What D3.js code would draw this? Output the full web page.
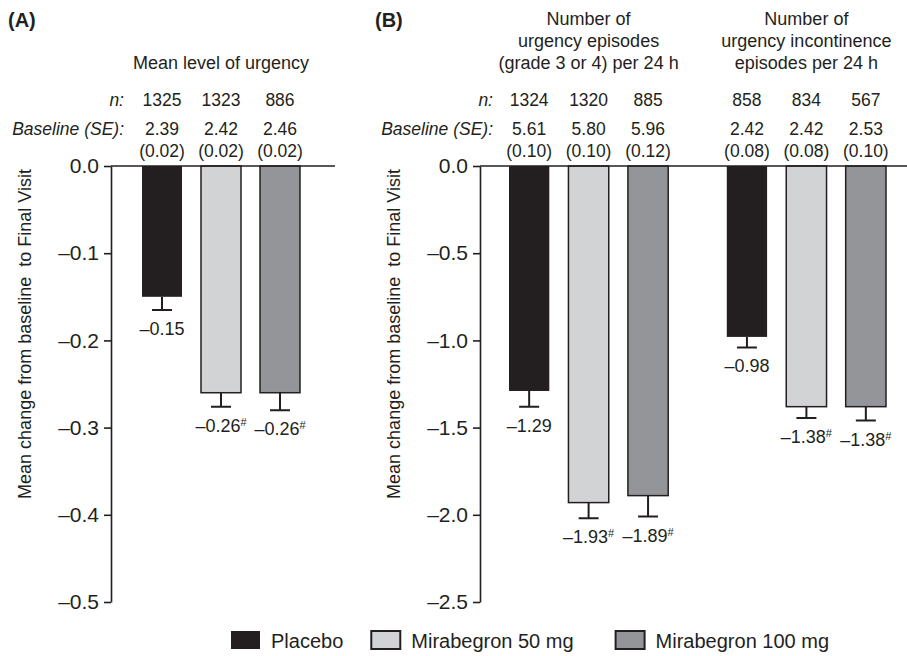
<!DOCTYPE html>
<html>
<head>
<meta charset="utf-8">
<script src="https://cdn.jsdelivr.net/npm/d3@7"></script>
<style>
  body { margin: 0; background: #fff; }
  svg text { font-family: "Liberation Sans", Arial, Helvetica, sans-serif; fill: #231f20; }
</style>
</head>
<body>
<div id="vis"></div>
<script>
// Data
const treatments = ['Placebo', 'Mirabegron 50 mg', 'Mirabegron 100 mg']
const outcomeTitles = [
    ['Mean level of urgency'],
    ['Number of', 'urgency episodes', '(grade 3 or 4) per 24 h'],
    ['Number of', 'urgency incontinence', 'episodes per 24 h']
]
const nValues = [[1325, 1323, 886], [1324, 1320, 885], [858, 834, 567]]
const baselineMean = [['2.39', '2.42', '2.46'], ['5.61', '5.80', '5.96'], ['2.42', '2.42', '2.53']]
const baselineSE = [['0.02', '0.02', '0.02'], ['0.10', '0.10', '0.12'], ['0.08', '0.08', '0.10']]
const meanChange = [[-0.15, -0.26, -0.26], [-1.29, -1.93, -1.89], [-0.98, -1.38, -1.38]]
const changeSE = [[0.015, 0.016, 0.02], [0.09, 0.09, 0.12], [0.06, 0.065, 0.08]]
const significant = [[false, true, true], [false, true, true], [false, true, true]]

const fills = ['#231f20', '#d1d3d4', '#939598']
const ink = '#231f20'

// Layout of the two panels
const panels = [
    {letter: '(A)', letterX: 8, outcomes: [0], axisX: 111, bars: [142, 300], groupPad: 0, endX: 335, min: -0.5},
    {letter: '(B)', letterX: 375, outcomes: [1, 2], axisX: 480, bars: [509, 886], groupPad: 0.269, endX: 907, min: -2.5}
]
const plotTop = 166, plotBottom = 602

let svg = d3.select('#vis')
    .append('svg')
    .attr('width', 907)
    .attr('height', 656)

const fmt = f => d => d3.format(f)(d).replace('\u2212', '\u2013')

panels.forEach(p => drawPanel(p))
drawLegend()

function drawPanel(p){
    let g = svg.append('g')

    let y = d3.scaleLinear().domain([0, p.min]).range([plotTop, plotBottom])
    let outer = d3.scaleBand().domain(p.outcomes).range(p.bars).paddingInner(p.groupPad)
    let inner = d3.scaleBand().domain(d3.range(treatments.length)).range([0, outer.bandwidth()]).paddingInner(0.322)

    // flatten into one record per bar
    let rows = []
    p.outcomes.forEach(o => treatments.forEach((t, i) => rows.push({
        o: o, i: i, v: meanChange[o][i], se: changeSE[o][i], sig: significant[o][i],
        n: nValues[o][i], bm: baselineMean[o][i], bse: baselineSE[o][i],
        cx: outer(o) + inner(i) + inner.bandwidth() / 2
    })))

    // bars
    g.selectAll('.bar')
        .data(rows)
        .enter()
        .append('rect')
            .attr('class', 'bar')
            .attr('x', d => d.cx - inner.bandwidth() / 2)
            .attr('y', y(0))
            .attr('width', inner.bandwidth())
            .attr('height', d => y(d.v) - y(0))
            .attr('fill', d => fills[d.i])
            .attr('stroke', ink)
            .attr('stroke-width', d => d.i === 0 ? 0 : 1.5)

    // error bars (downward only)
    g.selectAll('.err')
        .data(rows)
        .enter()
        .append('path')
            .attr('class', 'err')
            .attr('d', d => `M${d.cx},${y(d.v)}V${y(d.v - d.se)}M${d.cx - 10},${y(d.v - d.se)}H${d.cx + 10}`)
            .attr('stroke', ink)
            .attr('stroke-width', 2)
            .attr('fill', 'none')

    // value labels
    let lab = g.selectAll('.val')
        .data(rows)
        .enter()
        .append('text')
            .attr('class', 'val')
            .attr('x', d => d.cx)
            .attr('y', d => y(d.v - d.se) + 25)
            .attr('text-anchor', 'middle')
            .style('font-size', '18px')
            .text(d => fmt('.2f')(d.v))
    lab.filter(d => d.sig)
        .append('tspan')
            .attr('dy', -6)
            .style('font-size', '11px')
            .text('#')

    // axis
    let axis = d3.axisLeft(y)
        .tickValues(d3.ticks(p.min, 0, 5))
        .tickFormat(fmt('.1f'))
        .tickSize(7)
        .tickSizeOuter(0)
        .tickPadding(5)
    let ax = g.append('g')
        .attr('transform', `translate(${p.axisX},0)`)
        .call(axis)
    ax.selectAll('path, line').attr('stroke', ink).attr('stroke-width', 1.6)
    ax.selectAll('text').style('font-size', '21px').attr('fill', ink)
        .style('font-family', '"Liberation Sans", Arial, sans-serif')

    // zero line
    g.append('line')
        .attr('x1', p.axisX).attr('x2', p.endX)
        .attr('y1', y(0)).attr('y2', y(0))
        .attr('stroke', ink)
        .attr('stroke-width', 1.6)

    // y label
    g.append('text')
        .attr('transform', `translate(${p.axisX - 80},334) rotate(-90)`)
        .attr('text-anchor', 'middle')
        .style('font-size', '18px')
        .text('Mean change from baseline\u00a0 to Final Visit')

    // panel letter
    g.append('text')
        .attr('x', p.letterX).attr('y', 27)
        .style('font-size', '20px')
        .style('font-weight', 'bold')
        .text(p.letter)

    // outcome titles
    p.outcomes.forEach(o => {
        let lines = outcomeTitles[o]
        g.selectAll('.title' + o)
            .data(lines)
            .enter()
            .append('text')
                .attr('x', outer(o) + outer.bandwidth() / 2)
                .attr('y', (d, i) => 69 - (lines.length - 1 - i) * 22)
                .attr('text-anchor', 'middle')
                .style('font-size', '18px')
                .text(d => d)
    })

    // header rows: n, baseline and SE
    const rowsY = [106, 135, 157]
    const rowText = [d => d.n, d => d.bm, d => `(${d.bse})`]
    rowsY.forEach((ry, k) => {
        g.selectAll('.row' + k)
            .data(rows)
            .enter()
            .append('text')
                .attr('x', d => d.cx)
                .attr('y', ry)
                .attr('text-anchor', 'middle')
                .style('font-size', '17.5px')
                .text(rowText[k])
    })
    ;['n:', 'Baseline (SE):'].forEach((t, k) => {
        g.append('text')
            .attr('x', p.axisX + 13)
            .attr('y', rowsY[k])
            .attr('text-anchor', 'end')
            .style('font-size', '17.5px')
            .style('font-style', 'italic')
            .text(t)
    })
}

function drawLegend(){
    const gaps = [28, 42]
    let x = 231
    let lg = svg.append('g')
    treatments.forEach((t, i) => {
        lg.append('rect')
            .attr('x', x).attr('y', 631)
            .attr('width', 29).attr('height', 18)
            .attr('fill', fills[i])
            .attr('stroke', ink)
            .attr('stroke-width', i === 0 ? 0 : 2)
        let txt = lg.append('text')
            .attr('x', x + 40).attr('y', 648)
            .style('font-size', '20px')
            .text(t)
        x += 40 + txt.node().getComputedTextLength() + (gaps[i] || 0)
    })
}
</script>
</body>
</html>
